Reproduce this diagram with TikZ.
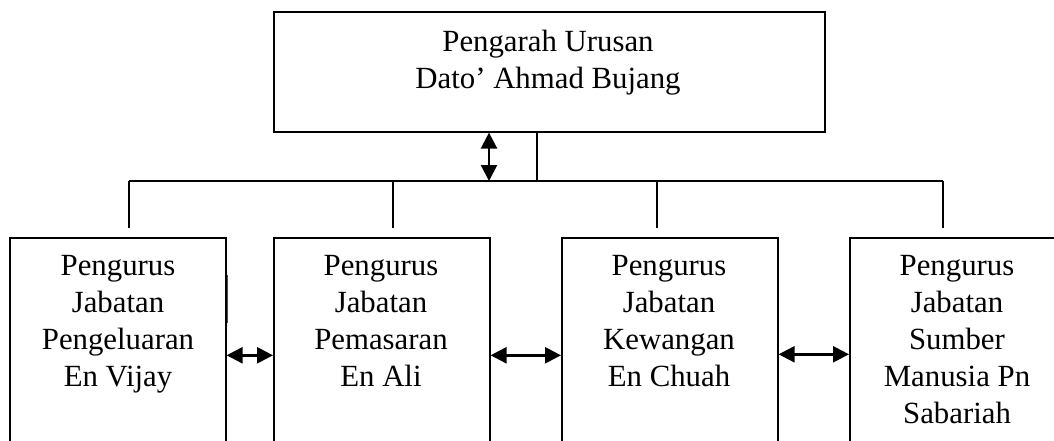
\documentclass[tikz,border=0pt]{standalone}
\usepackage{fontspec}
\setmainfont{Liberation Serif}
\usetikzlibrary{arrows.meta}
\begin{document}
\begin{tikzpicture}[x=1pt,y=-1pt,
  box/.style={draw,line width=1.6pt,rectangle,inner sep=0pt,anchor=north west},
  txt/.style={inner sep=0pt,align=center,anchor=base,font=\fontsize{30.8}{37}\selectfont},
  link/.style={line width=1.6pt},
  dbl/.style={line width=2.4pt,{Triangle[length=16pt,width=16pt]}-{Triangle[length=16pt,width=16pt]}}]
\useasboundingbox (0,0) rectangle (1054,441);
\clip (0,0) rectangle (1054,441);
\fill[white] (0,0) rectangle (1054,441);
% boxes
\node[box,minimum width=551pt,minimum height=120pt] (top) at (273,11) {};
\node[box,minimum width=216pt,minimum height=230pt] (b1) at (9,237) {};
\node[box,minimum width=216pt,minimum height=230pt] (b2) at (273,237) {};
\node[box,minimum width=216pt,minimum height=230pt] (b3) at (561,237) {};
\node[box,minimum width=216pt,minimum height=230pt] (b4) at (849,237) {};
% texts (anchor base = baseline of last line)
\node[txt] (ttop) at (548,89) {Pengarah Urusan\\Dato’ Ahmad Bujang};
\node[txt] (t1) at (118,386) {Pengurus\\Jabatan\\Pengeluaran\\En Vijay};
\node[txt] (t2) at (381,386) {Pengurus\\Jabatan\\Pemasaran\\En Ali};
\node[txt] (t3) at (669,386) {Pengurus\\Jabatan\\Kewangan\\En Chuah};
\node[txt] (t4) at (957,423) {Pengurus\\Jabatan\\Sumber\\Manusia Pn\\Sabariah};
% bus
\coordinate (busL) at (129,181);
\coordinate (busR) at (943,181);
\coordinate (busM) at (537,181);
\coordinate (busA) at (489,181);
\coordinate (d1) at (129,228);
\coordinate (d2) at (393,228);
\coordinate (d3) at (657,228);
\coordinate (d4) at (943,228);
\coordinate (u2) at (393,181);
\coordinate (u3) at (657,181);
\draw[link] (top.south -| busM) -- (busM);
\draw[link] (busL) -- (busR);
\draw[link] (busL) -- (d1);
\draw[link] (u2) -- (d2);
\draw[link] (u3) -- (d3);
\draw[link] (busR) -- (d4);
\draw[dbl] (top.south -| busA) -- (busA);
% horizontal double arrows
\draw[dbl] ([yshift=-2.5pt]b1.east) -- ([yshift=-2.5pt]b2.west);
\draw[dbl] ([yshift=-2.5pt]b2.east) -- ([yshift=-2.5pt]b3.west);
\draw[dbl] ([yshift=-1.5pt]b3.east) -- ([yshift=-1.5pt]b4.west);
% faint stray stroke beside first box
\draw[line width=0.8pt,black!70] (227,275) -- (227,323);
\end{tikzpicture}
\end{document}
